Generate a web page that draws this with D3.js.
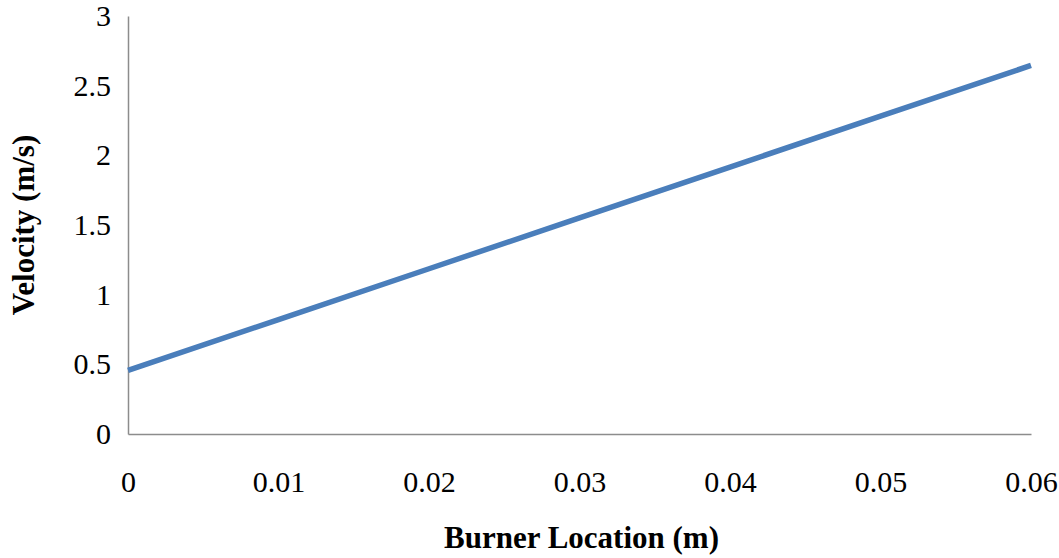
<!DOCTYPE html>
<html>
<head>
<meta charset="utf-8">
<script src="https://cdn.jsdelivr.net/npm/d3@7"></script>
<style>
  body { margin: 0; background: #fff; }
  svg { display: block; font-family: "Liberation Serif", "Times New Roman", serif; }
</style>
</head>
<body>
<svg id="chart" width="1059" height="558"></svg>
<script>
// data
var location_m = [0, 0.01, 0.02, 0.03, 0.04, 0.05, 0.06];
var velocity = [0.456, 0.821, 1.186, 1.551, 1.916, 2.281, 2.645];
var xTicks = [0, 0.01, 0.02, 0.03, 0.04, 0.05, 0.06];
var yTicks = [0, 0.5, 1, 1.5, 2, 2.5, 3];

var width = 1059, height = 558;
var margin = {top: 16, left: 128, right: 28, bottom: 124};

var svg = d3.select("#chart");

var xScale = d3.scaleLinear()
  .domain([0, 0.06])
  .range([margin.left, width - margin.right]);
var yScale = d3.scaleLinear()
  .domain([0, 3])
  .range([height - margin.bottom, margin.top]);

var axisColor = "#8c8c8c";

// x axis, no tick marks
var xAxis = svg.append("g")
  .attr("class", "x axis")
  .attr("transform", "translate(0," + yScale(0) + ")")
  .call(d3.axisBottom(xScale).tickValues(xTicks).tickSize(0).tickPadding(37)
    .tickFormat(function(d) { return d === 0 ? "0" : d3.format(".2f")(d); }));
xAxis.select(".domain").attr("stroke", axisColor).attr("stroke-width", 1.5);
xAxis.selectAll("text")
  .attr("font-size", 30)
  .attr("font-family", "Liberation Serif")
  .attr("fill", "#000");

// y axis
var yAxis = svg.append("g")
  .attr("class", "y axis")
  .attr("transform", "translate(" + xScale(0) + ",0)")
  .call(d3.axisLeft(yScale).tickValues(yTicks).tickSize(0).tickPadding(17)
    .tickFormat(function(d) { return String(d); }));
yAxis.select(".domain").attr("stroke", axisColor).attr("stroke-width", 1.5);
yAxis.selectAll("text")
  .attr("font-size", 30)
  .attr("font-family", "Liberation Serif")
  .attr("fill", "#000");

// the line
var line = d3.line()
  .x(function(d, i) { return xScale(location_m[i]); })
  .y(function(d) { return yScale(d); });

svg.append("path")
  .datum(velocity)
  .attr("fill", "none")
  .attr("stroke", "#4a7ebb")
  .attr("stroke-width", 5.5)
  .attr("stroke-linecap", "butt")
  .attr("d", line);

// axis titles
svg.append("text")
  .attr("x", (xScale(0) + xScale(0.06)) / 2 + 2)
  .attr("y", 548)
  .attr("text-anchor", "middle")
  .attr("font-size", 31)
  .attr("font-weight", "bold")
  .text("Burner Location (m)");

svg.append("text")
  .attr("transform", "translate(" + [34, (yScale(0) + yScale(3)) / 2] + ")rotate(-90)")
  .attr("text-anchor", "middle")
  .attr("font-size", 31)
  .attr("font-weight", "bold")
  .text("Velocity (m/s)");
</script>
</body>
</html>
